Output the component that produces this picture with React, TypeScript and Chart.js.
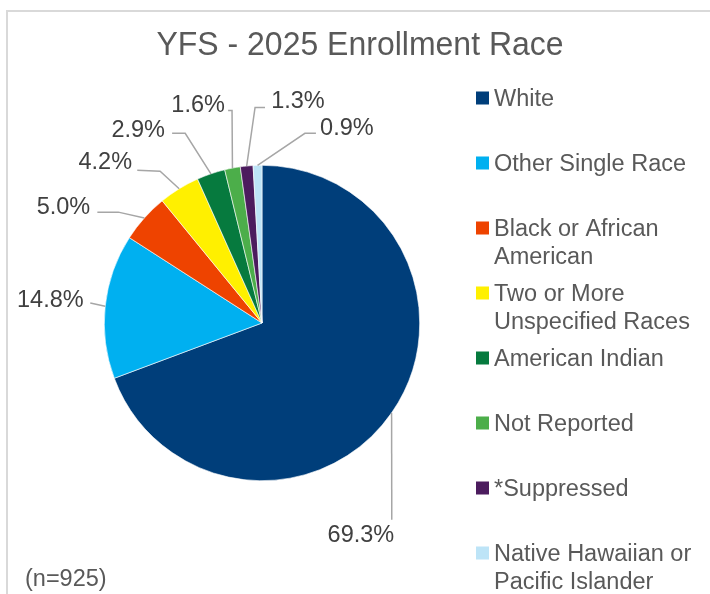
import React, { useEffect, useRef } from "react";
import { Chart, registerables } from "chart.js";
Chart.register(...registerables);

const titleText = "YFS - 2025 Enrollment Race";
const noteText = "(n=925)";
const categories = [
  "White",
  "Other Single Race",
  "Black or African American",
  "Two or More Unspecified Races",
  "American Indian",
  "Not Reported",
  "*Suppressed",
  "Native Hawaiian or Pacific Islander",
];
const legendLines = [
  ["White"],
  ["Other Single Race"],
  ["Black or African", "American"],
  ["Two or More", "Unspecified Races"],
  ["American Indian"],
  ["Not Reported"],
  ["*Suppressed"],
  ["Native Hawaiian or", "Pacific Islander"],
];
const percentages = [69.3, 14.8, 5.0, 4.2, 2.9, 1.6, 1.3, 0.9];
const colors = ["#003E7A", "#00B0F0", "#EE4300", "#FFF000", "#067A3E", "#4CAE4A", "#4C1C5E", "#BDE4F7"];

// label layout, in units of the pie radius relative to its centre
const labelText: [number, number][] = [
  [0.627, 1.335], [-1.342, -0.158], [-1.259, -0.747], [-0.994, -1.032],
  [-0.785, -1.234], [-0.405, -1.392], [0.228, -1.418], [0.538, -1.247],
];
const labelLeader: [number, number][][] = [
  [[0.823, 1.247]],
  [[-1.089, -0.127]],
  [[-1.044, -0.703], [-0.911, -0.703]],
  [[-0.791, -0.968], [-0.646, -0.962]],
  [[-0.57, -1.203], [-0.487, -1.203]],
  [[-0.215, -1.348], [-0.19, -1.348]],
  [[0.019, -1.367], [-0.044, -1.367]],
  [[0.342, -1.203], [0.272, -1.203]],
];

const FONT = "'Liberation Sans', Arial, sans-serif";

const overlayPlugin = {
  id: "overlay",
  afterDraw(chart: any) {
    const ctx = chart.ctx as CanvasRenderingContext2D;
    const meta = chart.getDatasetMeta(0);
    ctx.save();
    // title
    ctx.fillStyle = "#595959";
    ctx.textAlign = "center";
    ctx.textBaseline = "middle";
    ctx.save();
    ctx.translate(360, 46);
    ctx.scale(0.955, 1);
    ctx.font = `33.5px ${FONT}`;
    ctx.fillText(titleText, 0, 0);
    ctx.restore();

    // data labels
    meta.data.forEach((arc: any, i: number) => {
      const { x, y, startAngle, endAngle, outerRadius } = arc.getProps(
        ["x", "y", "startAngle", "endAngle", "outerRadius"], true);
      const mid = (startAngle + endAngle) / 2;
      const ex = x + Math.cos(mid) * outerRadius;
      const ey = y + Math.sin(mid) * outerRadius;
      const pts = labelLeader[i].map(([a, b]) => [x + a * outerRadius, y + b * outerRadius]);
      ctx.strokeStyle = "#A6A6A6";
      ctx.lineWidth = 1.5;
      ctx.beginPath();
      ctx.moveTo(ex, ey);
      for (let k = pts.length - 1; k >= 0; k--) ctx.lineTo(pts[k][0], pts[k][1]);
      ctx.stroke();
      ctx.fillStyle = "#404040";
      ctx.font = `23.5px ${FONT}`;
      ctx.textAlign = "center";
      ctx.textBaseline = "middle";
      const [tx, ty] = labelText[i];
      ctx.fillText(percentages[i].toFixed(1) + "%", x + tx * outerRadius, y + ty * outerRadius + 2);
    });

    // legend
    const lx = 476;
    let ly = 98;
    ctx.font = `23.5px ${FONT}`;
    ctx.textAlign = "left";
    ctx.textBaseline = "middle";
    legendLines.forEach((lines, i) => {
      ctx.fillStyle = colors[i];
      ctx.fillRect(lx, ly - 6.5, 13, 13);
      ctx.fillStyle = "#595959";
      lines.forEach((t, j) => ctx.fillText(t, lx + 18, ly + 2 + j * 28));
      ly += 65;
    });

    // note
    ctx.fillStyle = "#595959";
    ctx.fillText(noteText, 25, 580);
    ctx.restore();
  },
};

export default function App() {
  const ref = useRef<HTMLCanvasElement>(null);
  useEffect(() => {
    document.body.style.margin = "0";
    const chart = new Chart(ref.current!, {
      type: "pie",
      data: {
        labels: categories,
        datasets: [
          {
            data: percentages,
            backgroundColor: colors,
            borderColor: "#FFFFFF",
            borderWidth: 0.6,
          },
        ],
      },
      options: {
        animation: false,
        responsive: false,
        layout: { padding: { left: 104, right: 290, top: 165, bottom: 113 } },
        plugins: { legend: { display: false }, title: { display: false }, tooltip: { enabled: false } },
      },
      plugins: [overlayPlugin],
    });
    return () => chart.destroy();
  }, []);
  return (
    <div style={{ position: "relative", width: 710, height: 594, overflow: "hidden", background: "#fff" }}>
      <div
        style={{
          position: "absolute",
          left: 6,
          top: 10,
          width: 740,
          height: 620,
          border: "2px solid #D9D9D9",
        }}
      />
      <canvas ref={ref} width={710} height={594} style={{ position: "absolute", left: 0, top: 0 }} />
    </div>
  );
}
